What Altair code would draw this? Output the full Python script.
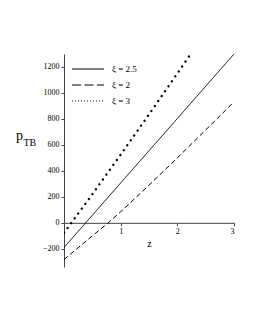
import altair as alt
import pandas as pd

# Data
z_solid = [0, 1, 2, 3]
p_solid = [-190, 307, 803, 1300]
z_dash = [0, 0.5, 0.78, 1, 1.5, 2, 2.5, 3]
p_dash = [-283, -100, 0, 85, 290, 500, 715, 931]
z_dot = [0, 0.5, 1, 1.5, 2, 2.235]
p_dot = [-77, 220, 525, 835, 1150, 1300]
labels = ["ξ = 2.5", "ξ = 2", "ξ = 3"]
y_ticks = [-200, 0, 200, 400, 600, 800, 1000, 1200]
x_ticks = [1, 2, 3]

W, H = 170, 213
Y0, Y1 = -340, 1300
zero_off = -H * (0 - Y0) / (Y1 - Y0)
FONT = "Liberation Serif"

xs = alt.Scale(domain=[0, 3], nice=False, zero=False)
ys = alt.Scale(domain=[Y0, Y1], nice=False, zero=False)
xax = alt.Axis(values=x_ticks, title="z", offset=zero_off, titlePadding=3, format="d")
yax = alt.Axis(values=y_ticks, title=None, format="d")


def series(zv, pv, dash, width, cap):
    d = pd.DataFrame({"z": zv, "p": pv})
    return alt.Chart(d).mark_line(color="black", strokeDash=dash, strokeWidth=width,
                                  strokeCap=cap, clip=True).encode(
        x=alt.X("z:Q", scale=xs, axis=xax),
        y=alt.Y("p:Q", scale=ys, axis=yax),
    )


solid = series(z_solid, p_solid, [1, 0], 1, "butt")
dashed = series(z_dash, p_dash, [5, 3], 1, "butt")
dotted = series(z_dot, p_dot, [0.1, 5.9], 2.3, "round")

# manual legend (Maple-style line samples)
leg_styles = [([1, 0], 1), ([9, 3.5], 1), ([1, 2], 0.9)]
leg_layers = []
for i, (lab, (dash, w)) in enumerate(zip(labels, leg_styles)):
    yy = 15 + 16 * i
    leg_layers.append(
        alt.Chart(pd.DataFrame({"t": [lab]})).mark_rule(color="black", strokeDash=dash, strokeWidth=w).encode(
            x=alt.value(8), x2=alt.value(40), y=alt.value(yy))
    )
    leg_layers.append(
        alt.Chart(pd.DataFrame({"t": [lab]})).mark_text(
            font=FONT, fontSize=9, align="left", baseline="middle", color="black").encode(
            x=alt.value(48), y=alt.value(yy), text="t:N")
    )

p_text = alt.Chart(pd.DataFrame({"t": ["p"]})).mark_text(
    font=FONT, fontSize=14, align="left", baseline="alphabetic", color="black"
).encode(x=alt.value(-48), y=alt.value(86), text="t:N")
tb_text = alt.Chart(pd.DataFrame({"t": ["TB"]})).mark_text(
    font=FONT, fontSize=10, align="left", baseline="alphabetic", color="black"
).encode(x=alt.value(-40.5), y=alt.value(92), text="t:N")

chart = alt.layer(solid, dashed, dotted, *leg_layers, p_text, tb_text).properties(
    width=W, height=H,
    autosize=alt.AutoSizeParams(type="none"),
    padding={"left": 56, "top": 46, "right": 10, "bottom": 40},
).configure_view(stroke=None).configure_axis(
    grid=False, labelFont=FONT, titleFont=FONT, labelFontSize=8, titleFontSize=10,
    titleFontWeight="normal", domainColor="#444", tickColor="#444", labelColor="black",
    titleColor="black", tickSize=3,
)

chart.save("out.html", embed_options={"renderer": "svg", "actions": False})
